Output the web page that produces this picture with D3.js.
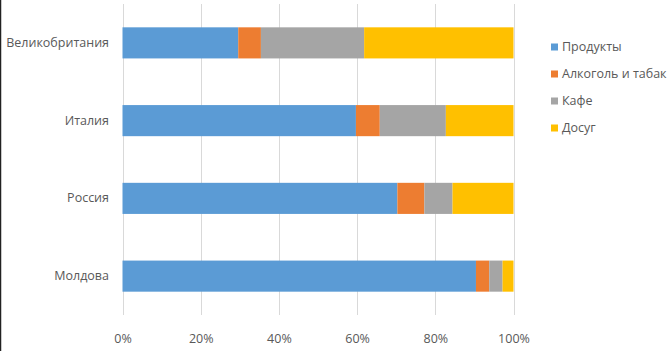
<!DOCTYPE html>
<html><head><meta charset="utf-8">
<script src="https://cdn.jsdelivr.net/npm/d3@7"></script>
<style>html,body{margin:0;padding:0;background:#fff;}svg{display:block;}</style>
</head><body>
<svg id="c" width="670" height="351"></svg>
<script>
const categories = ["Великобритания", "Италия", "Россия", "Молдова"];
const seriesNames = ["Продукты", "Алкоголь и табак", "Кафе", "Досуг"];
const produkty = [29.6, 59.7, 70.3, 90.4];
const alkogol = [5.8, 6.1, 6.9, 3.4];
const kafe = [26.4, 16.9, 7.2, 3.4];
const dosug = [38.2, 17.3, 15.6, 2.8];
const tickValues = [0, 20, 40, 60, 80, 100];
const colors = ["#5b9bd5", "#ed7d31", "#a5a5a5", "#ffc000"];

const svg = d3.select("#c");
const seriesValues = [produkty, alkogol, kafe, dosug];
const rows = categories.map((c, i) => {
  const r = {cat: c};
  seriesNames.forEach((s, j) => r[s] = seriesValues[j][i]);
  return r;
});
const stack = d3.stack().keys(seriesNames)(rows);

const x = d3.scaleLinear().domain([0, 100]).range([122.5, 513.5]);
const y = d3.scaleBand().domain(categories).range([4, 315]).paddingInner(0.6).paddingOuter(0.3);
const font = "'Open Sans', 'Liberation Sans', sans-serif";

// left frame line
svg.append("line").attr("x1", 0.5).attr("x2", 0.5).attr("y1", 0).attr("y2", 351)
  .attr("stroke", "#222").attr("stroke-width", 1.5);

// gridlines
svg.append("g").selectAll("line").data(tickValues).join("line")
  .attr("x1", d => Math.round(x(d)) + 0.5).attr("x2", d => Math.round(x(d)) + 0.5)
  .attr("y1", 4).attr("y2", 315)
  .attr("stroke", "#d9d9d9").attr("stroke-width", 1);

// bars
svg.append("g").selectAll("g").data(stack).join("g")
  .attr("fill", (d, i) => colors[i])
  .selectAll("rect").data(d => d).join("rect")
  .attr("x", d => x(d[0]))
  .attr("width", d => x(d[1]) - x(d[0]))
  .attr("y", d => y(d.data.cat))
  .attr("height", y.bandwidth());

// x axis labels
const xAxis = d3.axisBottom(x).tickValues(tickValues).tickFormat(d => d + "%").tickSize(0).tickPadding(0);
const gx = svg.append("g").attr("transform", "translate(0,334)").call(xAxis);
gx.select(".domain").remove();
gx.selectAll("text").attr("fill", "#595959").attr("font-size", "12.5px").attr("font-family", font);

// y axis labels
const yAxis = d3.axisLeft(y).tickSize(0).tickPadding(0);
const gy = svg.append("g").attr("transform", "translate(109,0)").call(yAxis);
gy.select(".domain").remove();
gy.selectAll("text").attr("fill", "#595959").attr("font-size", "12.5px").attr("font-family", font);

// legend
const lg = svg.append("g").selectAll("g").data(seriesNames).join("g")
  .attr("transform", (d, i) => `translate(551,${47 + i * 27})`);
lg.append("rect").attr("x", 0).attr("y", -3.5).attr("width", 7).attr("height", 7)
  .attr("fill", (d, i) => colors[i]);
lg.append("text").attr("x", 11).attr("y", 0).attr("dy", "0.35em")
  .attr("fill", "#595959").attr("font-size", "12.5px").attr("font-family", font)
  .text(d => d);
</script>
</body></html>
